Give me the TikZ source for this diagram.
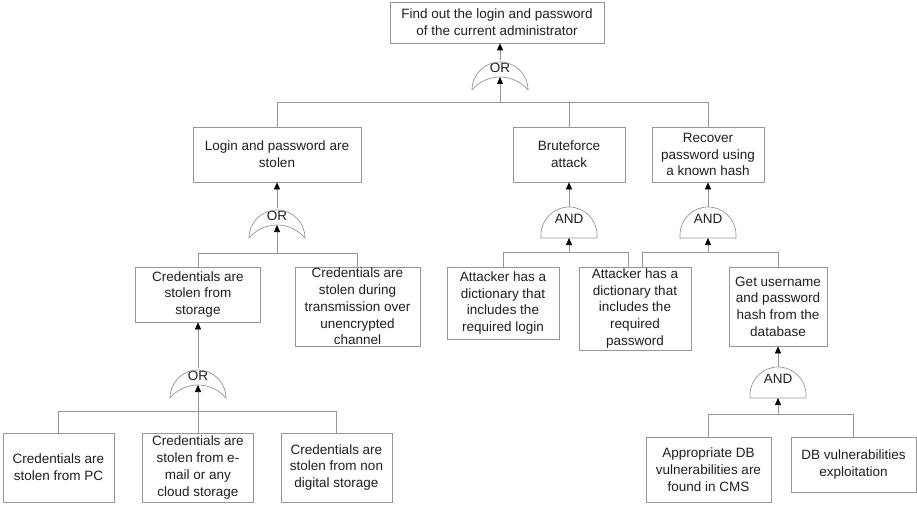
\documentclass[tikz,border=0pt]{standalone}
\usepackage{fontspec}
\setmainfont{Liberation Sans}
\usetikzlibrary{arrows.meta}
\definecolor{linegray}{RGB}{150,150,150}
\definecolor{textgray}{RGB}{30,30,30}

\begin{document}
\begin{tikzpicture}[x=1pt,y=1pt,
    box/.style={draw=linegray,line width=0.7pt,align=center,inner sep=1pt,text=textgray,font=\fontsize{13.5}{16.7}\selectfont},
    orgate/.style={inner sep=0,outer sep=0,minimum width=56pt,minimum height=30pt,text height=9pt,text depth=14pt,text=textgray,font=\fontsize{13.5}{16.7}\selectfont},
    andgate/.style={orgate,minimum height=31pt,text depth=7pt},
    gateline/.style={draw=linegray,line width=0.7pt},
    conn/.style={draw=linegray,line width=0.7pt},
    arr/.style={conn,-{Triangle[length=7pt,width=6pt,color=black,fill=black]}}]
                \useasboundingbox (0,0) rectangle (917,-505);

                \node[box,minimum width=214pt,minimum height=41pt] at (497,-22.5) (goal) {Find out the login and password\\of the current administrator};
                \node[orgate] at (500,-75) (g0) {OR};
                \node[box,minimum width=168pt,minimum height=55pt] at (277,-154.5) (stolen) {Login and password are\\stolen};
                \node[box,minimum width=112pt,minimum height=55pt] at (569,-154.5) (brute) {Bruteforce\\attack};
                \node[box,minimum width=112pt,minimum height=55pt] at (708,-154.5) (recover) {Recover\\password using\\a known hash};

                \node[orgate] at (277,-223) (g1) {OR};
                \node[box,minimum width=125pt,minimum height=55pt] at (198,-294.5) (storage) {Credentials are\\stolen from\\storage};
                \node[box,minimum width=125pt,minimum height=79pt] at (357.5,-306.5) (transm) {Credentials are\\stolen during\\transmission over\\unencrypted\\channel};
                \node[orgate] at (198,-383) (g2) {OR};
                \node[box,minimum width=111pt,minimum height=69pt] at (58.5,-467.5) (pc) {Credentials are\\stolen from PC};
                \node[box,minimum width=111pt,minimum height=69pt] at (198,-467.5) (email) {Credentials are\\stolen from e-\\mail or any\\cloud storage};
                \node[box,minimum width=111pt,minimum height=69pt] at (336.5,-467.5) (nondig) {Credentials are\\stolen from non\\digital storage};

                \node[andgate] at (569,-222.5) (g3) {AND};
                \node[box,minimum width=112pt,minimum height=72pt] at (503,-303) (dictl) {Attacker has a\\dictionary that\\includes the\\required login};
                \node[box,minimum width=112pt,minimum height=83pt] at (635,-308.5) (dictp) {Attacker has a\\dictionary that\\includes the\\required\\password};
                \node[andgate] at (708,-222.5) (g4) {AND};
                \node[box,minimum width=98pt,minimum height=79pt] at (778,-306.5) (gethash) {Get username\\and password\\hash from the\\database};
                \node[andgate] at (778,-382.5) (g5) {AND};
                \node[box,minimum width=125pt,minimum height=65pt] at (708.5,-469.5) (cms) {Appropriate DB\\vulnerabilities are\\found in CMS};
                \node[box,minimum width=125pt,minimum height=55pt] at (853.5,-464.5) (exploit) {DB vulnerabilities\\exploitation};

                % gate outlines
                \draw[gateline] (g0.south west) arc[start angle=180,end angle=0,radius=28] arc[start angle=40.2,end angle=139.8,radius=36.65];
                \draw[gateline] (g1.south west) arc[start angle=180,end angle=0,radius=28] arc[start angle=40.2,end angle=139.8,radius=36.65];
                \draw[gateline] (g2.south west) arc[start angle=180,end angle=0,radius=28] arc[start angle=40.2,end angle=139.8,radius=36.65];
                \draw[gateline] (g3.south west) -- (g3.south east) -- ++(0,3) arc[start angle=0,end angle=180,radius=28] -- cycle;
                \draw[gateline] (g4.south west) -- (g4.south east) -- ++(0,3) arc[start angle=0,end angle=180,radius=28] -- cycle;
                \draw[gateline] (g5.south west) -- (g5.south east) -- ++(0,3) arc[start angle=0,end angle=180,radius=28] -- cycle;

                % junctions
                \coordinate (j0) at (500,-102);
                \coordinate (j1) at (277,-253);
                \coordinate (j2) at (198,-411);
                \coordinate (j3) at (569,-252);
                \coordinate (j4) at (708,-252);
                \coordinate (j5) at (778,-414);

                \draw[conn] (stolen.north) |- (j0);
                \draw[conn] (brute.north) |- (j0);
                \draw[conn] (recover.north) |- (j0);
                \draw[arr] (j0) -- ([yshift=13pt]g0.south);
                \draw[arr] (g0.north) -- (g0.north |- goal.south);

                \draw[conn] (storage.north) |- (j1);
                \draw[conn] (transm.north) |- (j1);
                \draw[arr] (j1) -- ([yshift=13pt]g1.south);
                \draw[arr] (g1.north) -- (g1.north |- stolen.south);

                \draw[conn] (pc.north) |- (j2);
                \draw[conn] (email.north) |- (j2);
                \draw[conn] (nondig.north) |- (j2);
                \draw[arr] (j2) -- ([yshift=13pt]g2.south);
                \draw[arr] (g2.north) -- (g2.north |- storage.south);

                \draw[conn] (dictl.north) |- (j3);
                \draw[conn] ([xshift=-7pt]dictp.north) |- (j3);
                \draw[arr] (j3) -- (g3.south);
                \draw[arr] (g3.north) -- (g3.north |- brute.south);

                \draw[conn] ([xshift=7pt]dictp.north) |- (j4);
                \draw[conn] (gethash.north) |- (j4);
                \draw[arr] (j4) -- (g4.south);
                \draw[arr] (g4.north) -- (g4.north |- recover.south);

                \draw[conn] (cms.north) |- (j5);
                \draw[conn] (exploit.north) |- (j5);
                \draw[arr] (j5) -- (g5.south);
                \draw[arr] (g5.north) -- (g5.north |- gethash.south);
            \end{tikzpicture}
\end{document}
